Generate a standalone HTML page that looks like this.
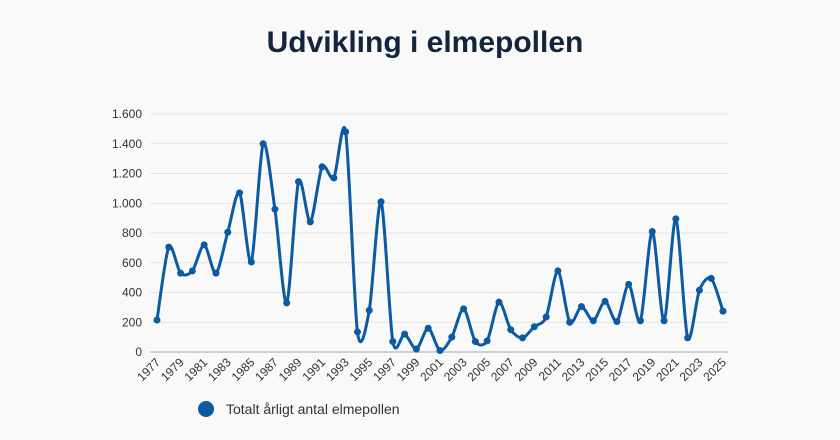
<!DOCTYPE html>
<html><head><meta charset="utf-8"><style>
body{margin:0;background:#f9f9f9;}
svg{display:block;font-family:"Liberation Sans","DejaVu Sans",sans-serif;}
</style></head><body>
<svg width="840" height="440" viewBox="0 0 840 440">
<rect width="840" height="440" fill="#f9f9f9"/>
<text x="425" y="52" text-anchor="middle" font-size="30" font-weight="bold" fill="#14243d">Udvikling i elmepollen</text>
<g id="grid"></g><g id="ylab"></g><g id="xlab"></g><g id="series"></g>
<g>
<circle cx="206" cy="409" r="8" fill="#0b5aa2"/>
<text x="226" y="414" font-size="14" fill="#333">Totalt årligt antal elmepollen</text>
</g>
</svg>
<script>
const years=[];for(let y=1977;y<=2025;y++)years.push(y);
const values=[215,705,530,545,720,530,805,1070,605,1400,960,330,1145,875,1245,1170,1480,135,280,1010,70,120,20,160,10,100,290,70,75,335,150,95,170,235,545,200,305,210,340,205,455,210,810,210,895,95,415,495,275];
const yTicks=[0,200,400,600,800,1000,1200,1400,1600];
const yTickLabels=["0","200","400","600","800","1.000","1.200","1.400","1.600"];
const NS="http://www.w3.org/2000/svg";
const x0=157,x1=723,yb=352,yt=114;
const xs=i=>x0+(x1-x0)*i/(years.length-1);
const ys=v=>yb-(yb-yt)*v/1600;
function mk(t,a,p){const e=document.createElementNS(NS,t);for(const k in a)e.setAttribute(k,a[k]);p.appendChild(e);return e;}
const g=document.getElementById('grid'),yl=document.getElementById('ylab'),xl=document.getElementById('xlab'),s=document.getElementById('series');
yTicks.forEach((v,i)=>{
const l=mk('line',{x1:150,x2:728,y1:ys(v),y2:ys(v),stroke:v===0?'#cfcfcf':'#e3e3e3','stroke-width':v===0?2:1},g);


const t=mk('text',{x:142,y:ys(v)+4,'text-anchor':'end','font-size':12,fill:'#333'},yl);
t.textContent=yTickLabels[i];


});
years.forEach((y,i)=>{if(i%2)return;
const x=xs(i)+4,yy=363;
const t=mk('text',{x:x,y:yy,'text-anchor':'end','font-size':12,fill:'#333',transform:`rotate(-45 ${x} ${yy})`},xl);
t.textContent=y;


});
const pts=values.map((v,i)=>[xs(i),ys(v)]);
const T=0.14;
let d=`M${pts[0][0]},${pts[0][1]}`;
for(let i=0;i<pts.length-1;i++){const p0=pts[i-1]||pts[i],p1=pts[i],p2=pts[i+1],p3=pts[i+2]||p2;
const c1=[p1[0]+(p2[0]-p0[0])*T,p1[1]+(p2[1]-p0[1])*T],c2=[p2[0]-(p3[0]-p1[0])*T,p2[1]-(p3[1]-p1[1])*T];
d+=` C${c1[0]},${c1[1]} ${c2[0]},${c2[1]} ${p2[0]},${p2[1]}`;}
const path=mk('path',{d:d,fill:'none',stroke:'#0b5aa2','stroke-width':3},s);


pts.forEach((p,i)=>{const c=mk('circle',{cx:p[0],cy:p[1],r:3.5,fill:'#0b5aa2'},s);

});
</script>
</body></html>
